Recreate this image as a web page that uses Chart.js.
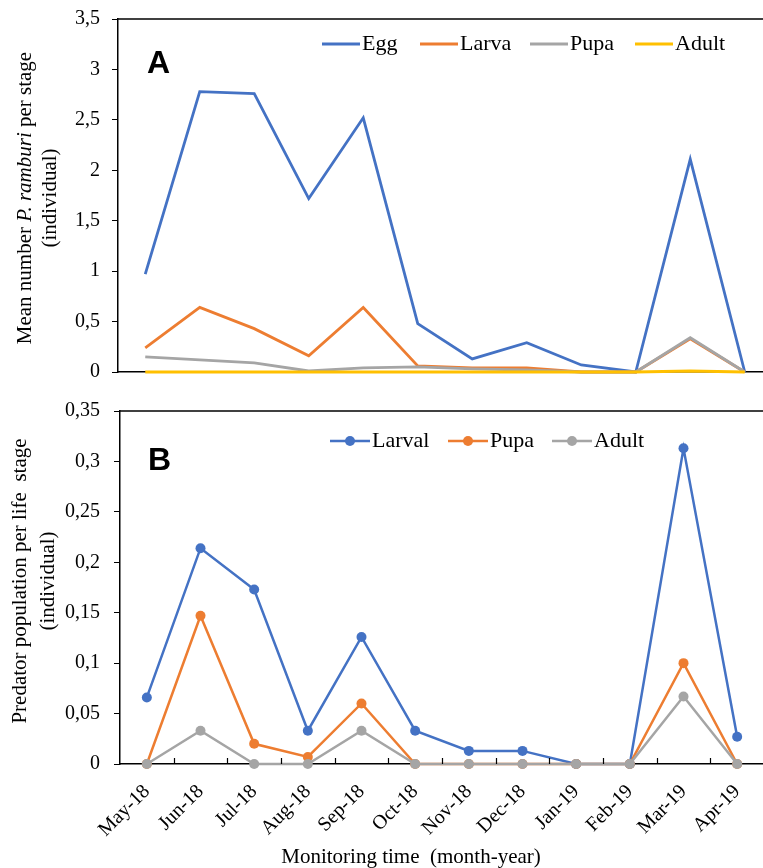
<!DOCTYPE html>
<html>
<head>
<meta charset="utf-8">
<script src="https://cdn.jsdelivr.net/npm/chart.js@4.4.0/dist/chart.umd.min.js"></script>
<style>
  html, body { margin: 0; padding: 0; background: #fff; overflow: hidden; width: 763px; height: 868px; }
  canvas { position: absolute; left: 0; }
  #chartA { top: 0; }
  #chartB { top: 395px; }
</style>
</head>
<body>
<canvas id="chartA" width="772" height="392"></canvas>
<canvas id="chartB" width="769" height="473"></canvas>
<script>
var months = ['May-18', 'Jun-18', 'Jul-18', 'Aug-18', 'Sep-18', 'Oct-18', 'Nov-18', 'Dec-18', 'Jan-19', 'Feb-19', 'Mar-19', 'Apr-19'];

// panel A - mean number of P. ramburi per stage
var eggA   = [0.97, 2.78, 2.76, 1.72, 2.52, 0.48, 0.13, 0.29, 0.07, 0, 2.11, 0];
var larvaA = [0.24, 0.64, 0.43, 0.16, 0.64, 0.06, 0.04, 0.04, 0, 0, 0.33, 0];
var pupaA  = [0.15, 0.12, 0.09, 0.01, 0.04, 0.05, 0.03, 0.02, 0, 0, 0.34, 0];
var adultA = [0, 0, 0, 0, 0, 0, 0, 0, 0, 0, 0.01, 0];
var yMaxA = 3.5, yStepA = 0.5;

// panel B - predator population per life stage
var larvalB = [0.066, 0.214, 0.173, 0.033, 0.126, 0.033, 0.013, 0.013, 0, 0, 0.313, 0.027];
var pupaB   = [0, 0.147, 0.02, 0.007, 0.06, 0, 0, 0, 0, 0, 0.1, 0];
var adultB  = [0, 0.033, 0, 0, 0.033, 0, 0, 0, 0, 0, 0.067, 0];
var yMaxB = 0.35, yStepB = 0.05;

var blue = '#4472C4', orange = '#ED7D31', grey = '#A5A5A5', gold = '#FFC000';
var serif = '"Liberation Serif", "Times New Roman", serif';

var decor = {
  id: 'decor',
  afterDraw: function(chart, args, o) {
    var ctx = chart.ctx, ca = chart.chartArea;
    ctx.save();
    ctx.strokeStyle = '#000';
    ctx.lineWidth = 1.5;
    ctx.beginPath();
    ctx.moveTo(ca.left, ca.top);
    ctx.lineTo(ca.right, ca.top);
    ctx.stroke();
    if (o.innerTicks) {
      var n = chart.data.labels.length, step = (ca.right - ca.left) / n;
      ctx.lineWidth = 1.2;
      ctx.beginPath();
      for (var i = 1; i < n; i++) {
        var x = Math.round(ca.left + i * step) + 0.5;
        ctx.moveTo(x, ca.bottom);
        ctx.lineTo(x, ca.bottom - 6);
      }
      ctx.stroke();
    }
    // panel letter
    ctx.fillStyle = '#000';
    ctx.font = 'bold 32px "Liberation Sans", Arial, sans-serif';
    ctx.textAlign = 'left';
    ctx.textBaseline = 'alphabetic';
    ctx.fillText(o.letter, o.letterX, o.letterY);
    // legend
    ctx.font = '22px ' + serif;
    ctx.textBaseline = 'middle';
    chart.data.datasets.forEach(function(ds, i) {
      var x0 = o.legendX[i], x1 = x0 + o.legendLen;
      ctx.strokeStyle = ds.borderColor;
      ctx.lineWidth = ds.borderWidth;
      ctx.beginPath();
      ctx.moveTo(x0, o.legendY);
      ctx.lineTo(x1, o.legendY);
      ctx.stroke();
      if (ds.pointRadius) {
        ctx.fillStyle = ds.borderColor;
        ctx.beginPath();
        ctx.arc((x0 + x1) / 2, o.legendY, ds.pointRadius, 0, Math.PI * 2);
        ctx.fill();
      }
      ctx.fillStyle = '#000';
      ctx.fillText(ds.label, x1 + 2, o.legendY);
    });
    // x axis title
    if (o.xTitle) {
      ctx.font = '21px ' + serif;
      ctx.textAlign = 'center';
      ctx.fillText(o.xTitle, o.xTitleX, o.xTitleY);
    }
    // y axis title, two lines, mixed italic
    o.yTitle.forEach(function(line, li) {
      var widths = line.map(function(p) {
        ctx.font = (p.i ? 'italic ' : '') + o.yTitleSize + 'px ' + serif;
        return ctx.measureText(p.t).width;
      });
      var total = widths.reduce(function(a, b) { return a + b; }, 0);
      ctx.save();
      ctx.translate(o.yTitleX[li], o.yTitleY);
      ctx.rotate(-Math.PI / 2);
      ctx.textAlign = 'left';
      ctx.textBaseline = 'middle';
      var x = -total / 2;
      line.forEach(function(p, k) {
        ctx.font = (p.i ? 'italic ' : '') + o.yTitleSize + 'px ' + serif;
        ctx.fillText(p.t, x, 0);
        x += widths[k];
      });
      ctx.restore();
    });
    ctx.restore();
  }
};

function fmt(v) {
  return String(parseFloat(v.toFixed(2))).replace('.', ',');
}

function lineSet(label, data, color, order, markers) {
  return {
    label: label,
    data: data,
    borderColor: color,
    backgroundColor: color,
    borderWidth: markers ? 2.5 : 2.8,
    pointRadius: markers ? 5 : 0,
    pointHoverRadius: markers ? 5 : 0,
    pointBorderWidth: 0,
    tension: 0,
    clip: false,
    order: order
  };
}

function opts(yMax, yStep, yWidth, tickPad, topPad, xHeight, showX, dec) {
  return {
    responsive: false,
    animation: false,
    layout: { padding: { left: 0, right: 0, top: topPad, bottom: 0 } },
    plugins: { legend: { display: false }, tooltip: { enabled: false }, decor: dec },
    scales: {
      x: {
        offset: true,
        grid: { display: true, drawOnChartArea: false, drawTicks: false },
        border: { display: true, color: '#000', width: 1.5 },
        ticks: {
          display: showX, color: '#000', autoSkip: false,
          minRotation: 45, maxRotation: 45, padding: 16,
          font: { family: serif, size: 20 }
        },
        afterFit: function(s) {
          s.height = xHeight;
          s.paddingLeft = 0; s.paddingRight = 0;
        }
      },
      y: {
        min: 0, max: yMax,
        grid: { display: true, drawOnChartArea: false, tickLength: 6, color: '#000' },
        border: { display: true, color: '#000', width: 1.5 },
        ticks: {
          stepSize: yStep, color: '#000', padding: tickPad,
          font: { family: serif, size: 20 },
          callback: function(v) { return fmt(v); }
        },
        afterFit: function(s) {
          s.width = yWidth;
          s.paddingTop = 0; s.paddingBottom = 0;
        }
      }
    }
  };
}

new Chart(document.getElementById('chartA'), {
  type: 'line',
  data: {
    labels: months,
    datasets: [
      lineSet('Egg', eggA, blue, 4, false),
      lineSet('Larva', larvaA, orange, 3, false),
      lineSet('Pupa', pupaA, grey, 2, false),
      lineSet('Adult', adultA, gold, 1, false)
    ]
  },
  options: opts(yMaxA, yStepA, 118, 12, 19, 20, false, {
    letter: 'A', letterX: 147, letterY: 73,
    legendX: [322, 420, 530, 635], legendLen: 38, legendY: 44,
    yTitle: [[{ t: 'Mean number ' }, { t: 'P. ramburi', i: true }, { t: ' per stage' }], [{ t: '(individual)' }]],
    yTitleX: [25, 50], yTitleY: 198, yTitleSize: 21
  }),
  plugins: [decor]
});

new Chart(document.getElementById('chartB'), {
  type: 'line',
  data: {
    labels: months,
    datasets: [
      lineSet('Larval', larvalB, blue, 3, true),
      lineSet('Pupa', pupaB, orange, 2, true),
      lineSet('Adult', adultB, grey, 1, true)
    ]
  },
  options: opts(yMaxB, yStepB, 120, 14, 16, 104, true, {
    letter: 'B', letterX: 148, letterY: 75, innerTicks: true,
    legendX: [330, 448, 552], legendLen: 40, legendY: 46,
    xTitle: 'Monitoring time  (month-year)', xTitleX: 411, xTitleY: 462,
    yTitle: [[{ t: 'Predator population per life  stage' }], [{ t: '(individual)' }]],
    yTitleX: [20, 48], yTitleY: 186, yTitleSize: 21
  }),
  plugins: [decor]
});
</script>
</body>
</html>
